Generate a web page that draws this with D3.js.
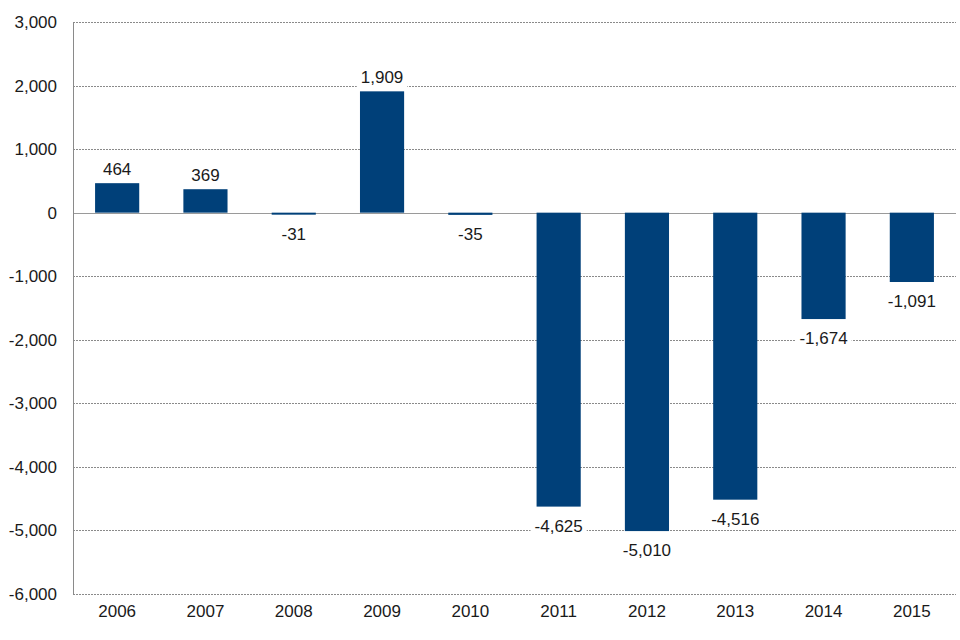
<!DOCTYPE html>
<html>
<head>
<meta charset="utf-8">
<script src="https://cdn.jsdelivr.net/npm/d3@7"></script>
<style>
  body { margin: 0; background: #fff; }
  text { font-family: "Liberation Sans", Arial, sans-serif; fill: #1a1a1a; }
</style>
</head>
<body>
<div id="chart"></div>
<script>
const years = ["2006", "2007", "2008", "2009", "2010", "2011", "2012", "2013", "2014", "2015"];
const values = [464, 369, -31, 1909, -35, -4625, -5010, -4516, -1674, -1091];
const yTicks = [3000, 2000, 1000, 0, -1000, -2000, -3000, -4000, -5000, -6000];

const margin = { top: 22, right: 4, bottom: 46, left: 73 };
const width = 960 - margin.left - margin.right;
const height = 640 - margin.top - margin.bottom;

const svg = d3.select("#chart")
    .append("svg")
    .attr("width", 960)
    .attr("height", 640)
    .append("g")
    .attr("transform", `translate(${margin.left},${margin.top})`);

const x = d3.scaleBand().domain(years).range([0, width]).paddingInner(0.5).paddingOuter(0.25);
const y = d3.scaleLinear().domain([-6000, 3000]).range([height, 0]);
// plain hyphen for negatives, like the original
const fmt = d3.formatLocale({ decimal: ".", thousands: ",", grouping: [3], currency: ["", ""], minus: "-" }).format(",");

// dashed gridlines
svg.selectAll(".grid")
    .data(yTicks.filter(t => t !== 0))
    .enter()
    .append("line")
    .attr("x1", 0).attr("x2", width)
    .attr("y1", d => Math.round(y(d)) + 0.5)
    .attr("y2", d => Math.round(y(d)) + 0.5)
    .attr("stroke", "#8a8a8a")
    .attr("stroke-width", 1)
    .attr("stroke-dasharray", "2,1");

// y axis labels
const yAxis = d3.axisLeft(y).tickValues(yTicks).tickSize(0).tickPadding(16).tickFormat(fmt);
svg.append("g")
    .call(yAxis)
    .call(g => g.select(".domain").remove())
    .selectAll("text")
    .style("font-size", "17px")
    .attr("fill", "#1a1a1a");

// zero line and left axis line
svg.append("line")
    .attr("x1", 0).attr("x2", width)
    .attr("y1", Math.round(y(0)) + 0.5).attr("y2", Math.round(y(0)) + 0.5)
    .attr("stroke", "#9a9a9a");
svg.append("line")
    .attr("x1", 0.5).attr("x2", 0.5)
    .attr("y1", 0).attr("y2", height)
    .attr("stroke", "#8a8a8a");

// bars
svg.selectAll(".bar")
    .data(values)
    .enter()
    .append("rect")
    .attr("x", (d, i) => x(years[i]))
    .attr("y", d => y(Math.max(0, d)))
    .attr("width", x.bandwidth())
    .attr("height", d => Math.max(2, Math.abs(y(d) - y(0))))
    .attr("fill", "#004079");

// value labels with white boxes
const labels = svg.selectAll(".lbl")
    .data(values)
    .enter()
    .append("g")
    .attr("transform", (d, i) => `translate(${x(years[i]) + x.bandwidth() / 2},${d >= 0 ? y(d) - 8 : y(d) + 25})`);

labels.append("text")
    .attr("text-anchor", "middle")
    .style("font-size", "17px")
    .text(d => fmt(d))
    .each(function () {
        const b = this.getBBox();
        d3.select(this.parentNode).insert("rect", "text")
            .attr("x", b.x - 4).attr("y", b.y)
            .attr("width", b.width + 8).attr("height", b.height)
            .attr("fill", "#fff");
    });

// x axis labels
svg.selectAll(".year")
    .data(years)
    .enter()
    .append("text")
    .attr("x", d => x(d) + x.bandwidth() / 2)
    .attr("y", height + 23)
    .attr("text-anchor", "middle")
    .style("font-size", "17px")
    .text(d => d);
</script>
</body>
</html>
